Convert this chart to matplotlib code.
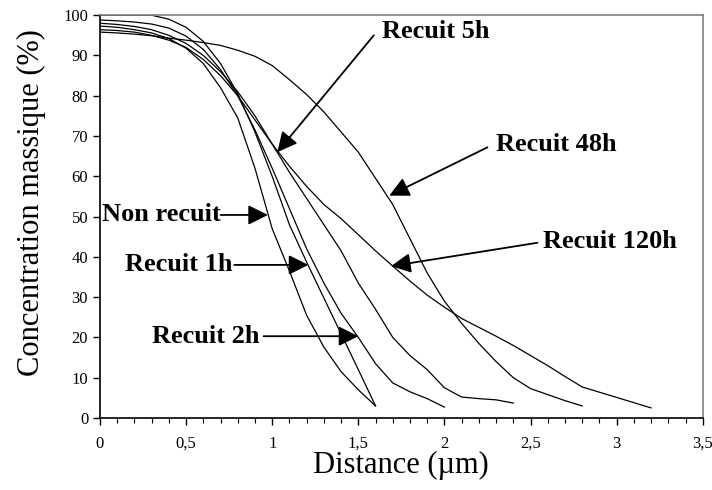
import numpy as np
import matplotlib.pyplot as plt
from matplotlib.ticker import MultipleLocator, FuncFormatter

# Data (distance in um, mass concentration in %)
x_nr = [0, 0.1, 0.2, 0.3, 0.4, 0.5, 0.6, 0.7, 0.8, 0.9, 1.0, 1.1, 1.2, 1.3, 1.4, 1.5, 1.6]
y_nr = [97.3, 97.0, 96.4, 95.6, 94.2, 91.8, 88.0, 82.0, 74.5, 62.0, 47.0, 36.5, 25.5, 17.6, 11.5, 7.0, 3.0]

x_1h = [0, 0.1, 0.2, 0.3, 0.4, 0.5, 0.6, 0.7, 0.8, 0.9, 1.0, 1.1, 1.2, 1.3, 1.4, 1.5, 1.6]
y_1h = [100, 100, 100, 100, 99.0, 97.0, 93.5, 88.0, 80.5, 71.0, 60.0, 48.0, 38.7, 29.8, 20.9, 12.0, 3.0]

x_2h = [0, 0.1, 0.2, 0.3, 0.4, 0.5, 0.6, 0.7, 0.8, 0.9, 1.0, 1.1, 1.2, 1.3,
        1.4, 1.5, 1.6, 1.7, 1.8, 1.9, 2.0]
y_2h = [98.8, 98.6, 98.3, 97.8, 96.8, 94.8, 91.5, 86.5, 80.0, 71.5, 62.0, 52.0, 42.0, 33.5,
        26.0, 20.0, 13.5, 8.7, 6.5, 4.8, 2.7]

x_5h = [0, 0.1, 0.2, 0.3, 0.4, 0.5, 0.6, 0.7, 0.8, 0.9, 1.0, 1.1, 1.2, 1.3,
        1.4, 1.5, 1.6, 1.7, 1.8, 1.9, 2.0, 2.1, 2.2, 2.3, 2.4]
y_5h = [98.0, 97.7, 97.2, 96.4, 95.0, 93.0, 90.0, 86.0, 81.0, 75.0, 68.0, 61.0, 54.5, 48.0,
        41.5, 33.5, 27.0, 20.0, 15.5, 12.0, 7.5, 5.2, 4.8, 4.5, 3.7]

x_48h = [0, 0.1, 0.2, 0.3, 0.4, 0.5, 0.6, 0.7, 0.8, 0.9, 1.0, 1.1, 1.2, 1.3, 1.4,
         1.5, 1.6, 1.7, 1.8, 1.9, 2.0, 2.1, 2.2, 2.3, 2.4, 2.5, 2.6, 2.7, 2.8]
y_48h = [95.8, 95.6, 95.3, 94.9, 94.3, 93.8, 93.2, 92.5, 91.3, 89.8, 87.5, 84.0, 80.3, 76.0, 71.0,
         66.0, 59.5, 53.0, 44.5, 36.0, 29.0, 23.5, 18.5, 14.0, 10.0, 7.3, 5.8, 4.3, 3.0]

x_120h = [0, 0.1, 0.2, 0.3, 0.4, 0.5, 0.6, 0.7, 0.8, 0.9, 1.0, 1.1, 1.2, 1.3, 1.4, 1.5, 1.6,
          1.7, 1.8, 1.9, 2.0, 2.1, 2.2, 2.3, 2.4, 2.5, 2.6, 2.7, 2.8, 2.9, 3.0, 3.1, 3.2]
y_120h = [96.4, 96.2, 95.8, 95.0, 93.8, 92.0, 89.0, 85.0, 80.0, 74.0, 68.0, 62.5, 57.5, 53.0, 49.5, 45.5, 41.5,
          37.7, 34.0, 30.5, 27.5, 24.7, 22.5, 20.3, 18.0, 15.5, 13.0, 10.3, 7.7, 6.4, 5.1, 3.8, 2.5]

series = [(x_nr, y_nr), (x_1h, y_1h), (x_2h, y_2h),
          (x_5h, y_5h), (x_48h, y_48h), (x_120h, y_120h)]

# labels: text, text position, arrow tail, arrow tip (data coords)
labels = [
    ("Non recuit", (0.012, 50.4), (0.70, 50.4), (0.975, 50.4)),
    ("Recuit 1h", (0.145, 38.0), (0.78, 38.0), (1.21, 38.0)),
    ("Recuit 2h", (0.30, 20.3), (0.95, 20.3), (1.50, 20.3)),
    ("Recuit 5h", (1.64, 96.0), (1.59, 95.0), (1.03, 66.0)),
    ("Recuit 48h", (2.30, 67.8), (2.25, 67.2), (1.68, 55.2)),
    ("Recuit 120h", (2.57, 43.8), (2.54, 43.5), (1.69, 37.7)),
]

plt.rcParams['font.family'] = ['Liberation Serif', 'DejaVu Serif']

fig = plt.figure(figsize=(7.12, 4.90), dpi=100)
ax = fig.add_axes([0.1404, 0.147, 0.8466, 0.822])

for xs, ys in series:
    ax.plot(xs, ys, color='k', lw=0.9)

for txt, pos, tail, tip in labels:
    ax.text(pos[0], pos[1], txt, ha='left', va='center',
            fontsize=19, fontweight='bold')
    ax.annotate("", xy=tip, xytext=tail,
                arrowprops=dict(arrowstyle='-|>', color='k', lw=1.3,
                                mutation_scale=30, shrinkA=0, shrinkB=0))

ax.set_xlim(0, 3.5)
ax.set_ylim(0, 100)
ax.xaxis.set_major_locator(MultipleLocator(0.5))
ax.xaxis.set_minor_locator(MultipleLocator(0.1))
ax.yaxis.set_major_locator(MultipleLocator(10))
ax.xaxis.set_major_formatter(FuncFormatter(lambda v, p: f"{v:g}".replace('.', ',')))

ax.tick_params(axis='both', which='major', direction='out', length=5, width=1,
               labelsize=12, color='k')
ax.tick_params(axis='x', which='major', pad=8)
ax.tick_params(axis='x', which='minor', direction='out', length=3.5, width=0.8)

for s in ['left', 'bottom']:
    ax.spines[s].set_color('k')
    ax.spines[s].set_linewidth(1.2)
for s in ['top', 'right']:
    ax.spines[s].set_color('#808080')
    ax.spines[s].set_linewidth(1.2)

ax.set_xlabel("Distance (µm)", fontsize=22, va='center')
ax.xaxis.set_label_coords(0.50, -0.118)
ax.set_ylabel("Concentration massique (%)", fontsize=22, va='center')
ax.yaxis.set_label_coords(-0.114, 0.535)

fig.savefig("out.png", dpi=100)
